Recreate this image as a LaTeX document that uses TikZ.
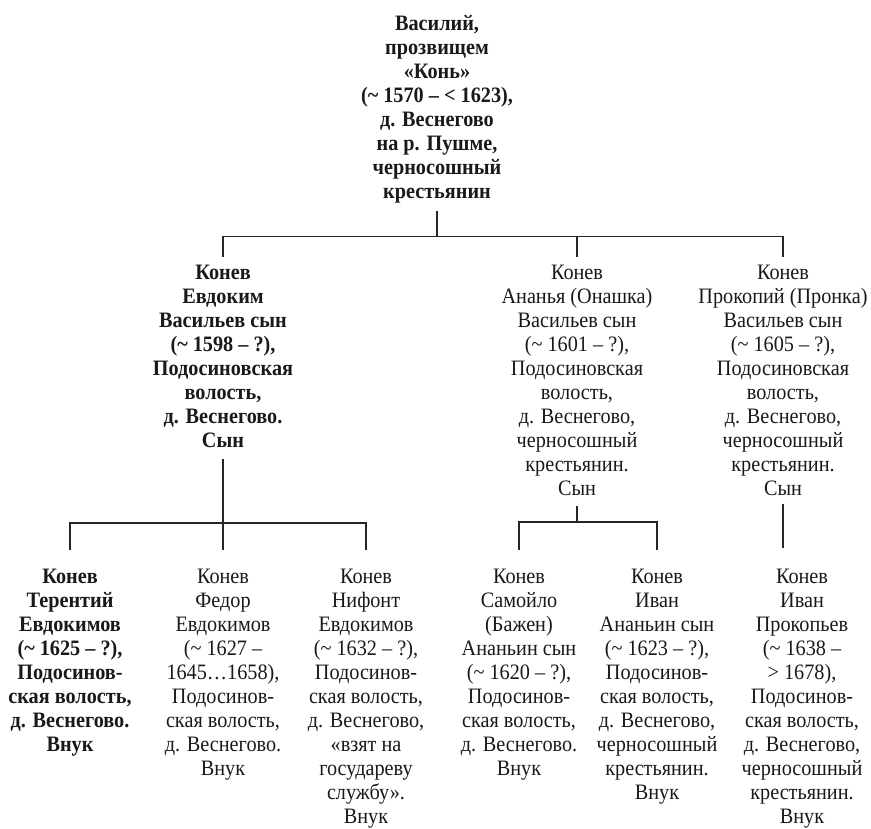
\documentclass[tikz,border=0pt]{standalone}
\usepackage{fontspec}
\setmainfont{Liberation Serif}[FakeStretch=0.92]
\usetikzlibrary{positioning,calc}

\begin{document}
\begin{tikzpicture}[x=1pt, y=1pt,
  person/.style={anchor=north, align=center, inner sep=0pt, text=black!90, font=\fontsize{22pt}{24pt}\selectfont},
  elder/.style={person, font=\fontsize{22pt}{24pt}\selectfont\bfseries},
  link/.style={line width=1.1pt, color=black!85},
]
\useasboundingbox (0,0) rectangle (871,-829);

% ─── Generation 1: Vasily ───
\node[elder] (vasily) at (437,-15) {Василий,\\прозвищем\\«Конь»\\(\textasciitilde{} 1570 – \textless{} 1623),\\д. Веснегово\\на р. Пушме,\\черносошный\\крестьянин};

% ─── Generation 2: sons ───
\node[elder] (evdokim) at (223,-265) {Конев\\Евдоким\\Васильев сын\\(\textasciitilde{} 1598 – ?),\\Подосиновская\\волость,\\д. Веснегово.\\Сын};
\node[person] (ananya) at (577,-265) {Конев\\Ананья (Онашка)\\Васильев сын\\(\textasciitilde{} 1601 – ?),\\Подосиновская\\волость,\\д. Веснегово,\\черносошный\\крестьянин.\\Сын};
\node[person] (prokopy) at (783,-265) {Конев\\Прокопий (Пронка)\\Васильев сын\\(\textasciitilde{} 1605 – ?),\\Подосиновская\\волость,\\д. Веснегово,\\черносошный\\крестьянин.\\Сын};

% ─── Generation 3: grandsons ───
\node[elder] (terenty) at (70,-569) {Конев\\Терентий\\Евдокимов\\(\textasciitilde{} 1625 – ?),\\Подосинов-\\ская волость,\\д. Веснегово.\\Внук};
\node[person] (fedor) at (223,-569) {Конев\\Федор\\Евдокимов\\(\textasciitilde{} 1627 –\\1645…1658),\\Подосинов-\\ская волость,\\д. Веснегово.\\Внук};
\node[person] (nifont) at (366,-569) {Конев\\Нифонт\\Евдокимов\\(\textasciitilde{} 1632 – ?),\\Подосинов-\\ская волость,\\д. Веснегово,\\«взят на\\государеву\\службу».\\Внук};
\node[person] (samoylo) at (519,-569) {Конев\\Самойло\\(Бажен)\\Ананьин сын\\(\textasciitilde{} 1620 – ?),\\Подосинов-\\ская волость,\\д. Веснегово.\\Внук};
\node[person] (ivanA) at (657,-569) {Конев\\Иван\\Ананьин сын\\(\textasciitilde{} 1623 – ?),\\Подосинов-\\ская волость,\\д. Веснегово,\\черносошный\\крестьянин.\\Внук};
\node[person] (ivanP) at (802,-569) {Конев\\Иван\\Прокопьев\\(\textasciitilde{} 1638 –\\\textgreater{} 1678),\\Подосинов-\\ская волость,\\д. Веснегово,\\черносошный\\крестьянин.\\Внук};

% ─── Vasily -> sons ───
\draw[link] ([yshift=-8pt]vasily.south) -- ++(0,-25) coordinate (bar1);
\draw[link] (bar1) -| ([yshift=8pt]evdokim.north);
\draw[link] (bar1) -| ([yshift=8pt]ananya.north);
\draw[link] (bar1) -| ([yshift=8pt]prokopy.north);

% ─── Evdokim -> grandsons ───
\draw[link] ([yshift=-11pt]evdokim.south) -- ++(0,-64) coordinate (bar2);
\draw[link] (bar2) -| ([yshift=19pt]terenty.north);
\draw[link] (bar2) -| ([yshift=19pt]fedor.north);
\draw[link] (bar2) -| ([yshift=19pt]nifont.north);

% ─── Ananya -> grandsons ───
\draw[link] ([yshift=-10pt]ananya.south) -- ++(0,-16) coordinate (bar3);
\draw[link] (bar3) -| ([yshift=19pt]samoylo.north);
\draw[link] (bar3) -| ([yshift=19pt]ivanA.north);

% ─── Prokopy -> grandson ───
\draw[link] ([yshift=-8pt]prokopy.south) -- ($(prokopy.south |- ivanP.north)+(0,21)$);

\end{tikzpicture}
\end{document}
